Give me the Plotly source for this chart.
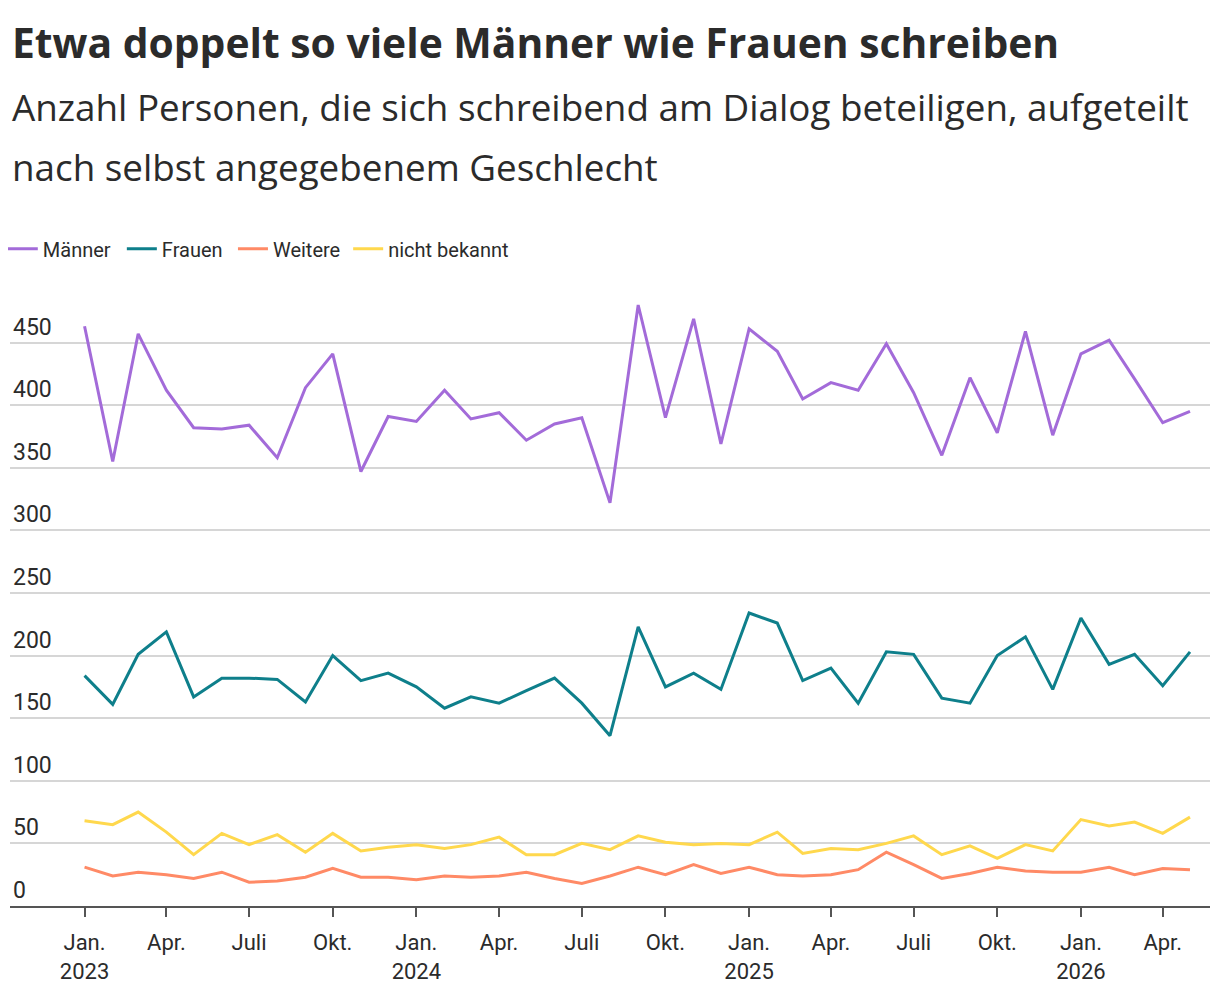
import pandas as pd
import plotly.graph_objects as go

# monthly values, Jan 2023 .. May 2026
months = pd.date_range("2023-01-01", "2026-05-01", freq="MS")

maenner = [463, 355, 457, 412, 382, 381, 384, 358, 414, 441, 347, 391,
           387, 412, 389, 394, 372, 385, 390, 322, 480, 390, 469, 369,
           461, 443, 405, 418, 412, 449, 410, 360, 422, 378, 459, 376,
           441, 452, 421, 386, 395]
frauen = [184, 161, 201, 219, 167, 182, 182, 181, 163, 200, 180, 186,
          175, 158, 167, 162, 172, 182, 162, 136, 223, 175, 186, 173,
          234, 226, 180, 190, 162, 203, 201, 166, 162, 200, 215, 173,
          230, 193, 201, 176, 203]
weitere = [31, 24, 27, 25, 22, 27, 19, 20, 23, 30, 23, 23,
           21, 24, 23, 24, 27, 22, 18, 24, 31, 25, 33, 26,
           31, 25, 24, 25, 29, 43, 33, 22, 26, 31, 28, 27,
           27, 31, 25, 30, 29]
unbekannt = [68, 65, 75, 59, 41, 58, 49, 57, 43, 58, 44, 47,
             49, 46, 49, 55, 41, 41, 50, 45, 56, 51, 49, 50,
             49, 59, 42, 46, 45, 50, 56, 41, 48, 38, 49, 44,
             69, 64, 67, 58, 71]

tick_dates = pd.date_range("2023-01-01", "2026-04-01", freq="3MS")
tick_text = ["Jan.<br>2023", "Apr.", "Juli", "Okt.",
             "Jan.<br>2024", "Apr.", "Juli", "Okt.",
             "Jan.<br>2025", "Apr.", "Juli", "Okt.",
             "Jan.<br>2026", "Apr."]

FONT = "Roboto"
HEAD_FONT = "Open Sans"
TEXT = "#2b2b2b"

series = [
    ("Männer", maenner, "#a36bd9"),
    ("Frauen", frauen, "#0e7f8b"),
    ("Weitere", weitere, "#ff8a66"),
    ("nicht bekannt", unbekannt, "#ffd84d"),
]
# one legend per entry so the spacing can follow the original
legend_ids = ["legend", "legend2", "legend3", "legend4"]
legend_x = [-0.006, 0.0932, 0.1858, 0.2818]

fig = go.Figure()
for (name, vals, col), lid in zip(series, legend_ids):
    fig.add_trace(go.Scatter(x=months, y=vals, name=name, mode="lines",
                             line=dict(color=col, width=3), legend=lid,
                             hovertemplate="%{y}<extra>" + name + "</extra>"))

# the page body adds 8px, so the figure is a bit smaller than the window
fig.update_layout(
    width=1212, height=988,
    margin=dict(l=2, r=10, t=282, b=90, autoexpand=False),
    paper_bgcolor="white", plot_bgcolor="white",
    font=dict(family=FONT, size=21, color=TEXT),
    showlegend=True,
)
for lid, lx in zip(legend_ids, legend_x):
    fig.update_layout({lid: dict(orientation="h", x=lx, xanchor="left",
                                 y=1.067, yanchor="middle", itemwidth=30,
                                 bgcolor="rgba(0,0,0,0)",
                                 font=dict(size=20, color=TEXT))})

fig.update_xaxes(
    range=["2022-10-11", "2026-05-23"],
    tickvals=tick_dates, ticktext=tick_text,
    showgrid=False, showline=True, linecolor="#555555", linewidth=2,
    ticks="outside", ticklen=9, tickwidth=2, tickcolor="#555555",
    ticklabelstandoff=7,
    tickfont=dict(size=22, color=TEXT),
)
fig.update_yaxes(
    range=[0, 492], dtick=50, tick0=0,
    showgrid=True, gridcolor="#d6d6d6", gridwidth=1.5,
    zeroline=False, ticklabelposition="inside top",
    tickfont=dict(size=23, color=TEXT),
)

fig.add_annotation(text="<b>Etwa doppelt so viele Männer wie Frauen schreiben</b>",
                   xref="paper", yref="paper", x=0, y=1.4026,
                   xanchor="left", yanchor="middle", showarrow=False,
                   font=dict(size=40.8, color=TEXT, family=HEAD_FONT))
fig.add_annotation(text="Anzahl Personen, die sich schreibend am Dialog beteiligen, aufgeteilt",
                   xref="paper", yref="paper", x=0, y=1.2971,
                   xanchor="left", yanchor="middle", showarrow=False,
                   font=dict(size=36.8, color=TEXT, family=HEAD_FONT))
fig.add_annotation(text="nach selbst angegebenem Geschlecht",
                   xref="paper", yref="paper", x=0, y=1.1997,
                   xanchor="left", yanchor="middle", showarrow=False,
                   font=dict(size=36.8, color=TEXT, family=HEAD_FONT))

fig.write_html("out.html")
